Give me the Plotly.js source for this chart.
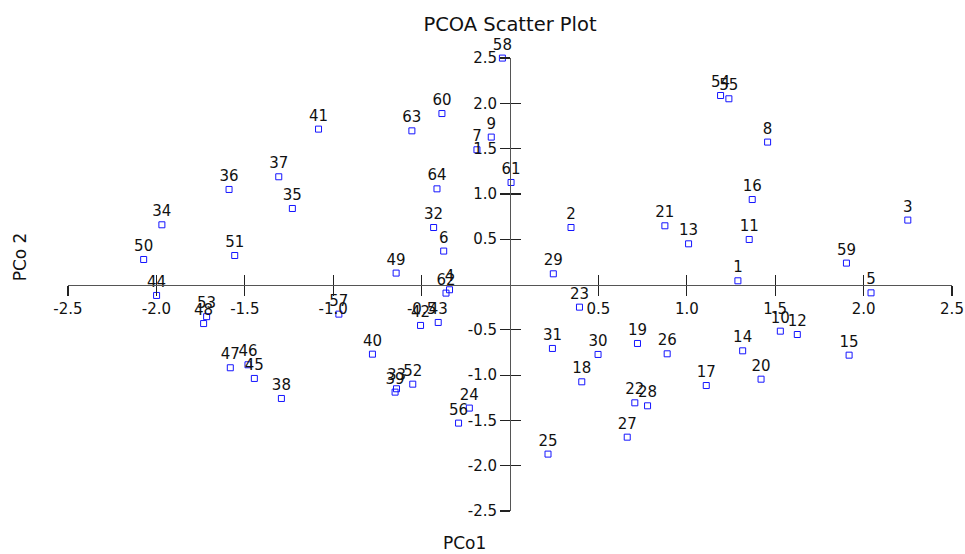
<!DOCTYPE html>
<html>
<head>
<meta charset="utf-8">
<script src="https://cdn.plot.ly/plotly-3.0.1.min.js"></script>
<style>html,body{margin:0;padding:0;background:#fff;}#chart{width:965px;height:554px;}</style>
</head>
<body>
<div id="chart"></div>
<script>
const labels = ["1","2","3","4","5","6","7","8","9","10","11","12","13","14","15","16","17","18","19","20","21","22","23","24","25","26","27","28","29","30","31","32","33","34","35","36","37","38","39","40","41","42","43","44","45","46","47","48","49","50","51","52","53","54","55","56","57","58","59","60","61","62","63","64"];
const pco1 = [1.289,0.345,2.250,-0.342,2.042,-0.375,-0.187,1.457,-0.106,1.529,1.353,1.625,1.010,1.316,1.918,1.370,1.110,0.406,0.721,1.420,0.876,0.706,0.393,-0.230,0.215,0.889,0.663,0.778,0.245,0.498,0.240,-0.432,-0.642,-1.969,-1.231,-1.589,-1.308,-1.293,-0.650,-0.778,-1.083,-0.506,-0.406,-1.999,-1.446,-1.482,-1.582,-1.733,-0.644,-2.072,-1.557,-0.550,-1.716,1.191,1.238,-0.291,-0.968,-0.043,1.903,-0.385,0.006,-0.362,-0.555,-0.413];
const pco2 = [0.041,0.629,0.711,-0.058,-0.092,0.369,1.487,1.572,1.627,-0.515,0.497,-0.552,0.449,-0.732,-0.780,0.938,-1.115,-1.074,-0.651,-1.045,0.648,-1.306,-0.250,-1.364,-1.872,-0.765,-1.685,-1.339,0.118,-0.772,-0.706,0.629,-1.151,0.659,0.839,1.049,1.189,-1.258,-1.188,-0.769,1.715,-0.452,-0.419,-0.121,-1.037,-0.886,-0.919,-0.431,0.126,0.276,0.320,-1.100,-0.355,2.086,2.050,-1.530,-0.327,2.499,0.236,1.887,1.126,-0.095,1.696,1.056];
const tickVals = [-2.5,-2.0,-1.5,-1.0,-0.5,0.5,1.0,1.5,2.0,2.5];
const tickText = ["-2.5","-2.0","-1.5","-1.0","-0.5","0.5","1.0","1.5","2.0","2.5"];

const FONT = "DejaVu Sans, Liberation Sans, Arial, sans-serif";

const trace = {
  type: 'scatter',
  mode: 'markers+text',
  x: pco1, y: pco2, text: labels,
  textposition: 'top center',
  textfont: {family: FONT, size: 15, color: '#111'},
  marker: {symbol: 'square-open', size: 6, color: '#1414ff', line: {width: 1, color: '#1414ff'}},
  cliponaxis: false,
  hoverinfo: 'none',
  showlegend: false
};

const baseAxis = {
  range: [-2.5, 2.5],
  autorange: false,
  showgrid: false,
  zeroline: false,
  showline: true,
  linecolor: '#555',
  linewidth: 1.2,
  tickmode: 'array',
  tickvals: tickVals,
  ticktext: tickText,
  ticklen: 10,
  tickwidth: 1.2,
  tickcolor: '#222',
  tickfont: {family: FONT, size: 15, color: '#111'},
  anchor: 'free',
  position: 0.5,
  fixedrange: true
};

const layout = {
  width: 965, height: 554,
  margin: {l: 68, r: 13, t: 58, b: 43},
  paper_bgcolor: '#fff', plot_bgcolor: '#fff',
  title: {text: 'PCOA Scatter Plot', font: {family: FONT, size: 19.5, color: '#111'},
          xref: 'paper', x: 0.5, xanchor: 'center', yref: 'container', y: 1 - 24/554, yanchor: 'middle'},
  xaxis: Object.assign({}, baseAxis, {ticks: 'outside', side: 'bottom'}),
  yaxis: Object.assign({}, baseAxis, {ticks: 'outside', side: 'left'}),
  xaxis2: Object.assign({}, baseAxis, {ticks: 'inside', side: 'bottom', overlaying: 'x', showticklabels: false}),
  yaxis2: Object.assign({}, baseAxis, {ticks: 'inside', side: 'left', overlaying: 'y', showticklabels: false}),
  annotations: [
    {text: 'PCo1', xref: 'paper', yref: 'paper', x: 0.448, y: -0.0706, xanchor: 'center', yanchor: 'middle',
     showarrow: false, font: {family: FONT, size: 17, color: '#111'}},
    {text: 'PCo 2', xref: 'paper', yref: 'paper', x: -0.0549, y: 0.561, xanchor: 'center', yanchor: 'middle',
     textangle: -90, showarrow: false, font: {family: FONT, size: 17, color: '#111'}}
  ]
};

const ghost = {type: 'scatter', mode: 'markers', x: [0], y: [0], xaxis: 'x2', yaxis: 'y2',
  marker: {opacity: 0, size: 1}, hoverinfo: 'skip', showlegend: false};

Plotly.newPlot('chart', [trace, ghost], layout, {staticPlot: true, displayModeBar: false});
</script>
</body>
</html>
